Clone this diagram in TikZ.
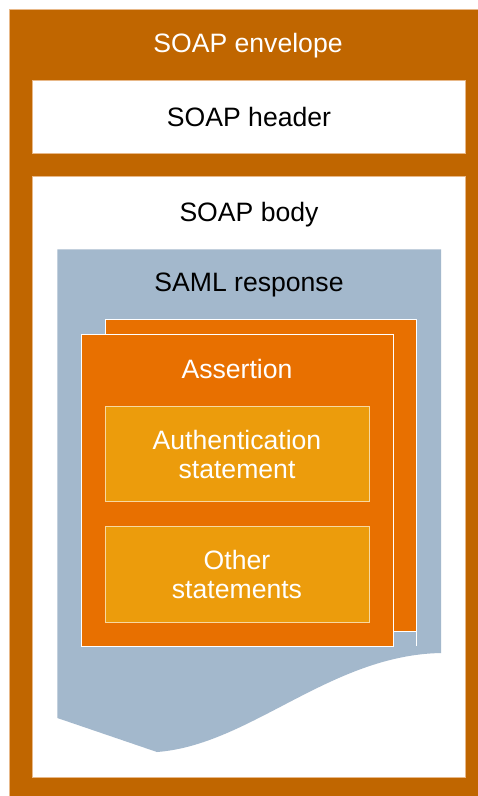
\documentclass[tikz,border=0pt]{standalone}
\usepackage{fontspec}
\setmainfont{Liberation Sans}
\definecolor{envbrown}{HTML}{C06600}
\definecolor{envedge}{HTML}{E8B888}
\definecolor{samlblue}{HTML}{A3B8CC}
\definecolor{assertorange}{HTML}{E87000}
\definecolor{stmtamber}{HTML}{EC9C0C}
\definecolor{stmtedge}{HTML}{F8D8A0}
\tikzset{
  lbl/.style={font=\fontsize{26.6}{29}\selectfont, align=center, inner sep=0pt},
  assertbox/.style={fill=assertorange, draw=white, line width=1pt},
  stmtbox/.style={fill=stmtamber, draw=stmtedge, line width=1pt},
  bodybox/.style={fill=white, draw=envedge, line width=0.8pt},
}
\begin{document}
\begin{tikzpicture}[x=1pt, y=-1pt]
\useasboundingbox (0,0) rectangle (478,796);
\fill[white] (0,0) rectangle (478,796);
% SOAP envelope
\fill[envbrown] (9.5,9) rectangle (478,796);
\draw[envedge, line width=0.8pt] (9.5,796) -- (9.5,9) -- (478,9);
\node[lbl, text=white] (env) at (248,46) {SOAP envelope};
% SOAP header
\draw[bodybox] (32.5,80) rectangle (465.5,153.5);
\node[lbl] (hdr) at (249,117) {SOAP header};
% SOAP body
\draw[bodybox] (32.5,176) rectangle (465.5,777.3);
\node[lbl] (body) at (249,215) {SOAP body};
% SAML response with torn lower edge
\fill[samlblue] (57.3,249.3) -- (441,249.3) -- (441,653)
  .. controls (330,655) and (250,745) .. (157,752) -- (57.3,718) -- cycle;
\node[lbl] (saml) at (249,285) {SAML response};
% stacked assertions
\draw[assertbox] (105,319.3) rectangle (416.7,631);
\draw[white, line width=1pt] (416.7,631) -- (416.7,646);
\draw[assertbox] (81,334.3) rectangle (393,646.7);
\node[lbl, text=white] (assert) at (237,369) {Assertion};
% statements
\draw[stmtbox] (105,406.7) rectangle (369,501);
\node[lbl, text=white] (authn) at (237,454.5) {Authentication\\statement};
\draw[stmtbox] (105,526) rectangle (369,622.7);
\node[lbl, text=white] (other) at (237,574.5) {Other\\statements};
\end{tikzpicture}
\end{document}
